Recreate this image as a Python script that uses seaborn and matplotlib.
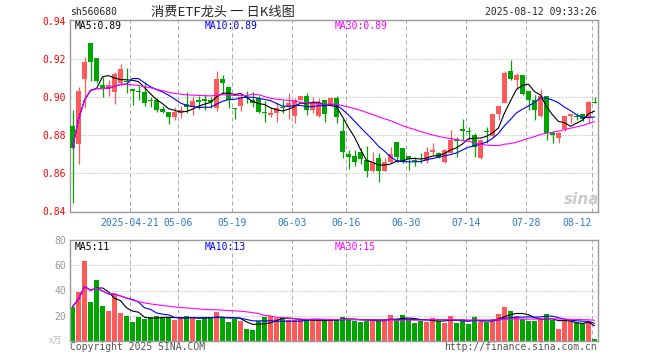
import numpy as np
import pandas as pd
import seaborn as sns
import matplotlib.pyplot as plt

# daily K-line data (index 0 = 2025-04-07)
opens = [
    .885, .8754, .9095, .9286, .9207, .9065, .9046, .903, .9077, .9088,
    .9044, .9035, .903, .8986, .8986, .8937, .8925, .8896, .8919, .8965,
    .8951, .8986, .8991, .8986, .8942, .9096, .9053, .8942, .8954, .9004,
    .8986, .8995, .8925, .8907, .8916, .8951, .8955, .8902, .8986, .9007,
    .8933, .8902, .8986, .896, .8998, .8825, .8702, .8691, .8714, .867,
    .8614, .8679, .8614, .8661, .8763, .8732, .8691, .867, .8688, .8667,
    .8714, .8709, .8661, .8709, .8779, .8832, .8825, .8802, .8679, .8825,
    .8796, .8912, .8968, .9139, .9091, .9118, .9033, .8986, .8902, .9007,
    .8811, .8789, .8832, .8902, .8902, .8912, .8895, .8977,
]
highs = [
    .8933, .9056, .921, .9286, .9207, .9105, .9093, .9135, .9175, .9153,
    .9044, .906, .9082, .900, .8998, .8954, .8925, .8947, .8954, .9028,
    .9007, .9007, .9018, .900, .9139, .9118, .9053, .8942, .9012, .9032,
    .903, .9007, .8982, .895, .8977, .8986, .9021, .8995, .9007, .9021,
    .900, .8995, .8986, .9003, .9005, .8885, .8723, .8723, .8732, .8744,
    .8714, .8705, .8679, .874, .8763, .8732, .8691, .8688, .8709, .8737,
    .8758, .8714, .8727, .883, .879, .8884, .8846, .8811, .8775, .8846,
    .8912, .8954, .9139, .9196, .9126, .9118, .9033, .9012, .9042, .9007,
    .8825, .8819, .8902, .8912, .8919, .8912, .8982, .900,
]
lows = [
    .8446, .8649, .8942, .9086, .9074, .900, .9005, .8965, .906, .9025,
    .896, .8986, .8954, .895, .8925, .8916, .886, .888, .8893, .8916,
    .8907, .8937, .8933, .8942, .893, .9025, .8942, .8884, .893, .8968,
    .8951, .8919, .8872, .8898, .8872, .8916, .8889, .8863, .8986, .8907,
    .892, .8895, .8872, .8955, .8867, .8679, .8626, .8639, .8649, .8579,
    .8609, .8556, .8612, .8653, .8661, .8656, .862, .8639, .8656, .8656,
    .8696, .8679, .8653, .8709, .8688, .8775, .8775, .8688, .8674, .8761,
    .8793, .8881, .8968, .9091, .9042, .9012, .8933, .8881, .8898, .8775,
    .8761, .8761, .8825, .8867, .8881, .8877, .8867, .8972,
]
closes = [
    .8735, .9035, .9188, .9188, .9086, .9046, .9065, .9125, .9147, .908,
    .9033, .903, .8968, .898, .8933, .8925, .8898, .8925, .8933, .8951,
    .8982, .8977, .898, .8977, .9096, .9077, .8986, .894, .9004, .8996,
    .8972, .8925, .8916, .8916, .8946, .8942, .897, .8986, .9007, .8933,
    .8977, .8968, .8912, .8998, .8898, .8714, .8684, .8661, .8674, .8614,
    .8661, .8614, .8658, .870, .8688, .8667, .8674, .8667, .8684, .8711,
    .8723, .8684, .8723, .8775, .877, .8825, .8819, .874, .8775, .8819,
    .8912, .8954, .913, .9096, .9118, .9018, .8986, .8933, .9007, .8814,
    .8802, .8811, .8902, .8912, .8895, .8884, .8977, .8972,
]
# volume in 万
volumes = [
    27.2, 39.2, 63.2, 31.2, 48.5, 28.0, 23.7, 37.3, 22.4, 20.0,
    15.2, 19.2, 17.3, 18.7, 20.0, 18.4, 19.2, 16.5, 17.9, 20.0,
    19.2, 16.5, 18.4, 17.9, 22.7, 18.4, 15.2, 17.3, 15.7, 9.3,
    8.5, 15.7, 18.9, 19.5, 17.9, 17.9, 16.5, 16.5, 16.5, 16.5,
    16.0, 16.5, 16.5, 17.3, 17.1, 19.2, 17.3, 16.0, 15.2, 16.0,
    17.3, 16.0, 16.0, 20.5, 16.5, 20.5, 17.3, 14.4, 16.0, 15.2,
    17.9, 15.7, 14.4, 19.7, 14.4, 17.1, 13.3, 18.9, 15.2, 15.2,
    17.1, 21.3, 27.2, 23.7, 19.7, 17.1, 16.0, 16.0, 17.3, 21.3,
    16.8, 9.3, 16.0, 16.0, 14.4, 13.9, 14.7, 1.3,
]
date_labels = ["2025-04-21", "05-06", "05-19", "06-03", "06-16",
               "06-30", "07-14", "07-28", "08-12"]
date_idx = [10, 18, 27, 37, 46, 56, 66, 76, 87]
price_ticks = [0.84, 0.86, 0.88, 0.90, 0.92, 0.94]
vol_ticks = [20, 40, 60, 80]

df = pd.DataFrame({"o": opens, "h": highs, "l": lows, "c": closes, "v": volumes})
df["i"] = np.arange(len(df))
for n in (5, 10, 30):
    df[f"ma{n}"] = df["c"].rolling(n, min_periods=1).mean()
    df[f"vma{n}"] = df["v"].rolling(n, min_periods=1).mean()

sns.set_style("white")
plt.rcParams["font.family"] = ["DejaVu Sans Mono", "Noto Sans CJK SC"]

RED, GREEN = "#ff5a5a", "#00a600"
GRID = "#aaaaaa"
up = df["c"] >= df["o"]
colors = np.where(up, RED, GREEN)

W, H = 660, 360
fig = plt.figure(figsize=(6.6, 3.6), dpi=100)
x0, x1 = 70, 598
ax = fig.add_axes([x0 / W, 1 - 211.5 / H, (x1 - x0) / W, (211.5 - 20) / H])
axv = fig.add_axes([x0 / W, 1 - 341 / H, (x1 - x0) / W, (341 - 240) / H])

xlim = (-0.42, 87.58)
mas = [("ma5", "black"), ("ma10", "#0000ff"), ("ma30", "#ff00ff")]

# price panel
ax.vlines(df["i"], df["l"], df["h"], colors=colors, lw=0.9, zorder=2)
body = (df["c"] - df["o"]).abs().clip(lower=0.0005)
ax.bar(df["i"], body, bottom=df[["o", "c"]].min(axis=1), width=0.82,
       color=colors, linewidth=0, zorder=3)
for col, clr in mas:
    sns.lineplot(data=df, x="i", y=col, ax=ax, color=clr, lw=0.8, zorder=4)
ax.set_xlim(*xlim)
ax.set_ylim(0.84, 0.9407)
for t in price_ticks[1:-1]:
    ax.axhline(t, color=GRID, lw=0.72, ls=(0, (1, 2)), zorder=1)
ax.set_yticks(price_ticks)
ax.set_yticklabels([f"{t:.2f}" for t in price_ticks], color="red", fontsize=7)

# volume panel
axv.bar(df["i"], df["v"], width=0.85, color=colors, linewidth=0, zorder=2)
for col, clr in mas:
    sns.lineplot(data=df, x="i", y="v" + col, ax=axv, color=clr, lw=0.8, zorder=4)
axv.set_xlim(*xlim)
axv.set_ylim(0, 80)
for t in vol_ticks[:-1]:
    axv.axhline(t, color=GRID, lw=0.72, ls=(0, (1, 2)), zorder=1)
axv.set_yticks(vol_ticks)
axv.set_yticklabels([str(t) for t in vol_ticks], color="#999999", fontsize=7)

for a in (ax, axv):
    for d in date_idx:
        a.axvline(d - 0.42, color=GRID, lw=0.72, ls=(0, (4, 3)), zorder=1)
    a.set_xticks([])
    a.set_xlabel("")
    a.set_ylabel("")
    a.tick_params(axis="y", length=0, pad=3)
    for s in a.spines.values():
        s.set_color("#999999")
        s.set_linewidth(1)
    a.set_facecolor("white")

# date labels under the price panel
for lab, d in zip(date_labels, date_idx):
    ha = "right" if d == date_idx[-1] else "center"
    ax.text(d - 0.42, -0.035, lab, transform=ax.get_xaxis_transform(),
            ha=ha, va="top", fontsize=7, color="#2a7ac8")

# legends
leg_p = ["MA5:0.89", "MA10:0.89", "MA30:0.89"]
leg_v = ["MA5:11", "MA10:13", "MA30:15"]
for k, (col, clr) in enumerate(mas):
    fig.text((75 + 130 * k) / W, 1 - 26 / H, leg_p[k], color=clr, fontsize=7, va="center")
    fig.text((75 + 130 * k) / W, 1 - 247 / H, leg_v[k], color=clr, fontsize=7, va="center")

fig.text(70 / W, 1 - 12 / H, "sh560680", fontsize=7, va="center")
fig.text(223 / W, 1 - 12 / H, "消费ETF龙头 一 日K线图", fontsize=9.5, ha="center",
         va="center", family=["Noto Sans CJK SC", "DejaVu Sans"])
fig.text(597 / W, 1 - 12 / H, "2025-08-12 09:33:26", fontsize=7, ha="right", va="center")
fig.text(70 / W, 1 - 347 / H, "Copyright 2025 SINA.COM", fontsize=7, color="#555555", va="center")
fig.text(597 / W, 1 - 347 / H, "http://finance.sina.com.cn", fontsize=7, color="#555555",
         ha="right", va="center")
fig.text(56 / W, 1 - 341 / H, "x万", fontsize=6.5, color="#bbbbbb", ha="center", va="center",
         family=["Noto Sans CJK SC", "DejaVu Sans"])
fig.text(582 / W, 1 - 200 / H, "sina", fontsize=11, color="#cccccc", ha="center", va="center",
         style="italic", weight="bold", family=["DejaVu Sans"])

fig.savefig("out.png", dpi=100, facecolor="white")
